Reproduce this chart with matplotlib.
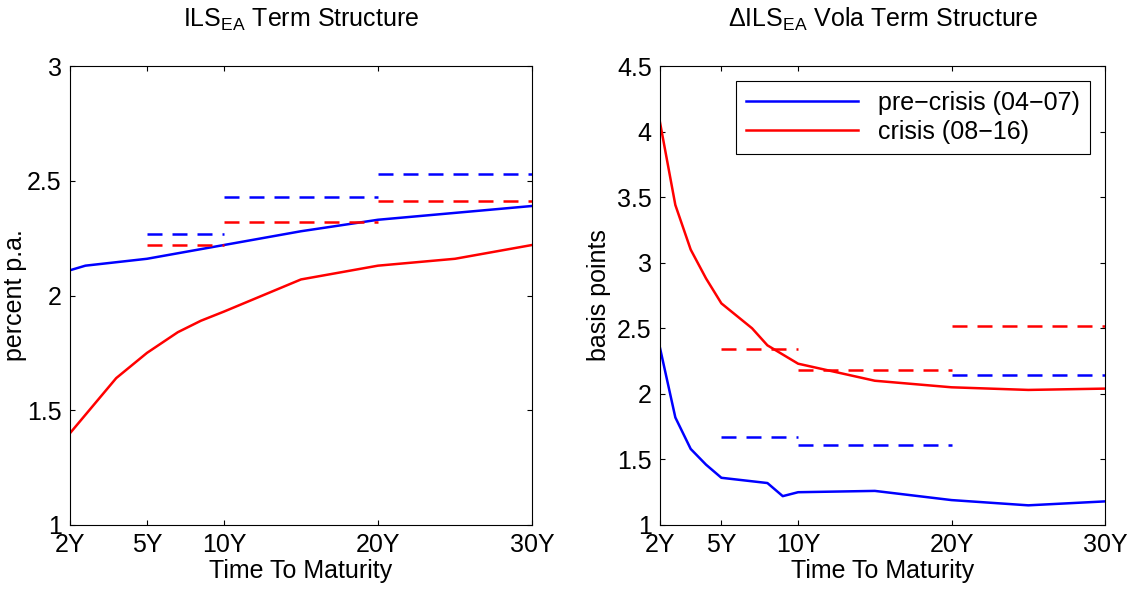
import matplotlib
matplotlib.use('Agg')
import matplotlib.pyplot as plt

plt.rcParams['font.family'] = ['Liberation Sans', 'DejaVu Sans']
plt.rcParams['mathtext.fontset'] = 'custom'
plt.rcParams['mathtext.rm'] = 'Liberation Sans'
plt.rcParams['mathtext.it'] = 'Liberation Sans'
plt.rcParams['font.size'] = 18

# ---- data ----
tick_lab = ['2Y', '5Y', '10Y', '20Y', '30Y']

lvl_x = [0, 1, 5, 10, 15, 20, 25, 30]
lvl_pre = [2.11, 2.13, 2.16, 2.22, 2.28, 2.33, 2.36, 2.39]
lvl_cri_x = [0, 1, 3, 5, 7, 8.5, 10, 15, 20, 25, 30]
lvl_cri = [1.40, 1.48, 1.64, 1.75, 1.84, 1.89, 1.93, 2.07, 2.13, 2.16, 2.22]

seg = [(5, 10), (10, 20), (20, 30)]
lvl_pre_avg = [2.27, 2.43, 2.53]
lvl_cri_avg = [2.22, 2.32, 2.41]

vol_x = [1, 2, 3, 4, 5, 8, 9, 10, 15, 20, 25, 30]
vol_pre = [2.35, 1.82, 1.58, 1.46, 1.36, 1.32, 1.22, 1.25, 1.26, 1.19, 1.15, 1.18]
vol_cri_x = [1, 2, 3, 4, 5, 7, 8, 9, 10, 15, 20, 25, 30]
vol_cri = [4.07, 3.44, 3.10, 2.88, 2.69, 2.50, 2.37, 2.30, 2.23, 2.10, 2.05, 2.03, 2.04]

vseg = [(5, 10), (10, 20), (20, 30)]
vol_pre_avg = [1.67, 1.61, 2.14]
vol_cri_avg = [2.34, 2.18, 2.52]

fig = plt.figure(figsize=(11.35, 6.04), dpi=100)
ax1 = fig.add_axes([70/1135, 79/604, 462/1135, 459/604])
ax2 = fig.add_axes([660/1135, 79/604, 445/1135, 459/604])

ax1.plot(lvl_x, lvl_pre, 'b', lw=1.8)
ax1.plot(lvl_cri_x, lvl_cri, 'r', lw=1.8)
for (a, b), p, c in zip(seg, lvl_pre_avg, lvl_cri_avg):
    ax1.plot([a, b], [p, p], 'b--', lw=1.8, dashes=(6, 4))
    ax1.plot([a, b], [c, c], 'r--', lw=1.8, dashes=(6, 4))
ax1.set_xlim(0, 30)
ax1.set_xticks([0, 5, 10, 20, 30])
ax1.set_ylim(1, 3)
ax1.set_yticks([1, 1.5, 2, 2.5, 3])
ax1.set_yticklabels(['1', '1.5', '2', '2.5', '3'])
ax1.set_ylabel('percent p.a.', labelpad=0)
ax1.set_title(r'ILS$_{\mathrm{EA}}$ Term Structure', fontsize=18, pad=28)

l1, = ax2.plot(vol_x, vol_pre, 'b', lw=1.8, label='pre\u2212crisis (04\u221207)')
l2, = ax2.plot(vol_cri_x, vol_cri, 'r', lw=1.8, label='crisis (08\u221216)')
for (a, b), p, c in zip(vseg, vol_pre_avg, vol_cri_avg):
    ax2.plot([a, b], [p, p], 'b--', lw=1.8, dashes=(6, 4))
    ax2.plot([a, b], [c, c], 'r--', lw=1.8, dashes=(6, 4))
ax2.set_xlim(1, 30)
ax2.set_xticks([1, 5, 10, 20, 30])
ax2.set_ylim(1, 4.5)
ax2.set_yticks([1, 1.5, 2, 2.5, 3, 3.5, 4, 4.5])
ax2.set_yticklabels(['1', '1.5', '2', '2.5', '3', '3.5', '4', '4.5'])
ax2.set_ylabel('basis points', labelpad=4)
ax2.set_title(r'$\Delta$ILS$_{\mathrm{EA}}$ Vola Term Structure', fontsize=18, pad=28)
leg = ax2.legend(handles=[l1, l2], loc='upper right', fancybox=False,
                 edgecolor='k', framealpha=1, handlelength=4.5,
                 fontsize=18, borderaxespad=0.6, labelspacing=0.2)
leg.get_frame().set_linewidth(0.8)

for ax in (ax1, ax2):
    ax.set_xticklabels(tick_lab)
    ax.set_xlabel('Time To Maturity', labelpad=1)
    ax.tick_params(direction='in', top=True, right=True, labelsize=18, pad=6)

fig.savefig('out.png', dpi=100)
